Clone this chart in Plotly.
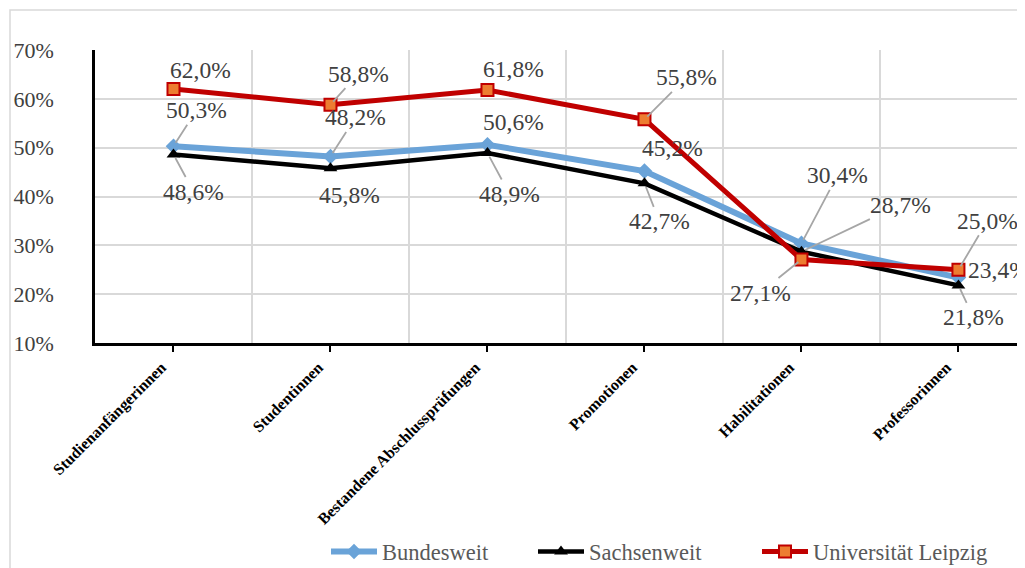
import plotly.graph_objects as go

categories = ["Studienanfängerinnen", "Studentinnen", "Bestandene Abschlussprüfungen",
              "Promotionen", "Habilitationen", "Professorinnen"]
bundesweit = [50.3, 48.2, 50.6, 45.2, 30.4, 23.4]
sachsenweit = [48.6, 45.8, 48.9, 42.7, 28.7, 21.8]
uni_leipzig = [62.0, 58.8, 61.8, 55.8, 27.1, 25.0]
y_ticks = [10, 20, 30, 40, 50, 60, 70]

xpos = list(range(len(categories)))
SERIF = "Liberation Serif"

fig = go.Figure()
fig.add_trace(go.Scatter(
    x=xpos, y=bundesweit, name="Bundesweit", mode="lines+markers", legend="legend",
    line=dict(color="#6AA3D8", width=6),
    marker=dict(symbol="diamond", size=12, color="#6AA3D8")))
fig.add_trace(go.Scatter(
    x=xpos, y=sachsenweit, name="Sachsenweit", mode="lines+markers", legend="legend2",
    line=dict(color="#000000", width=4.5),
    marker=dict(symbol="triangle-up", size=12, color="#000000")))
fig.add_trace(go.Scatter(
    x=xpos, y=uni_leipzig, name="Universität Leipzig", mode="lines+markers", legend="legend3",
    line=dict(color="#C00000", width=5),
    marker=dict(symbol="square", size=12, color="#ED7D31",
                line=dict(color="#C00000", width=2))))

# label offsets in pixels (dx, dy, leader line shown)
offsets = {
    "b": [(23, -36, True), (25, -39, True), (26, -23, False), (28, -23, False), (36, -68, True), (40, -8, False)],
    "s": [(20, 37, True), (19, 27, False), (22, 41, True), (15, 38, True), (99, -47, True), (15, 32, True)],
    "u": [(27, -19, False), (28, -31, True), (26, -21, False), (42, -42, True), (-41, 33, True), (29, -49, True)],
}
series = {"b": bundesweit, "s": sachsenweit, "u": uni_leipzig}

def fmt(v):
    return f"{v:.1f}".replace(".", ",") + "%"

for key, vals in series.items():
    for i, v in enumerate(vals):
        dx, dy, line = offsets[key][i]
        fig.add_annotation(
            x=xpos[i], y=v, xref="x", yref="y", text=fmt(v),
            showarrow=True, arrowhead=0, arrowwidth=1.8,
            arrowcolor="#A6A6A6" if line else "rgba(0,0,0,0)",
            ax=dx, ay=dy, standoff=4,
            font=dict(family=SERIF, size=23.5, color="#404040"))

# chart-area border
fig.add_shape(type="rect", xref="paper", yref="paper",
              x0=-0.0914, y0=-1.2, x1=1.2, y1=1.1365,
              line=dict(color="#D9D9D9", width=1.5), layer="below")

legend_common = dict(orientation="h", yanchor="middle", xanchor="left", y=-0.713,
                     font=dict(family=SERIF, size=22.5, color="#595959"),
                     itemwidth=46, bgcolor="rgba(0,0,0,0)")

fig.update_layout(
    width=1017, height=560,
    margin=dict(l=87, r=0, t=42, b=225, autoexpand=False),
    paper_bgcolor="white", plot_bgcolor="white",
    showlegend=True,
    legend=dict(x=(326 - 95) / 930, **legend_common),
    legend2=dict(x=(533 - 95) / 930, **legend_common),
    legend3=dict(x=(757 - 95) / 930, **legend_common),
    xaxis=dict(
        range=[-0.5, 5.424], tickmode="array", tickvals=xpos, ticktext=categories,
        tickangle=-45, tickfont=dict(family=SERIF, size=16, color="#000000", weight="bold"),
        ticks="outside", ticklen=6, tickwidth=2, tickcolor="#000000",
        ticklabelshift=-12,
        showline=True, linecolor="#000000", linewidth=2.5,
        showgrid=False, zeroline=False,
        minor=dict(tickmode="array", tickvals=[i + 0.5 for i in xpos], showgrid=True,
                   gridcolor="#D9D9D9", gridwidth=2, ticklen=0),
    ),
    yaxis=dict(
        range=[10, 70], tickmode="array", tickvals=y_ticks,
        ticktext=[f"{t}%" for t in y_ticks],
        tickfont=dict(family=SERIF, size=22, color="#404040"),
        ticks="", ticklabelstandoff=34,
        showline=True, linecolor="#000000", linewidth=2.5,
        showgrid=True, gridcolor="#D9D9D9", gridwidth=2, zeroline=False,
    ),
)

fig.write_html("out.html")
